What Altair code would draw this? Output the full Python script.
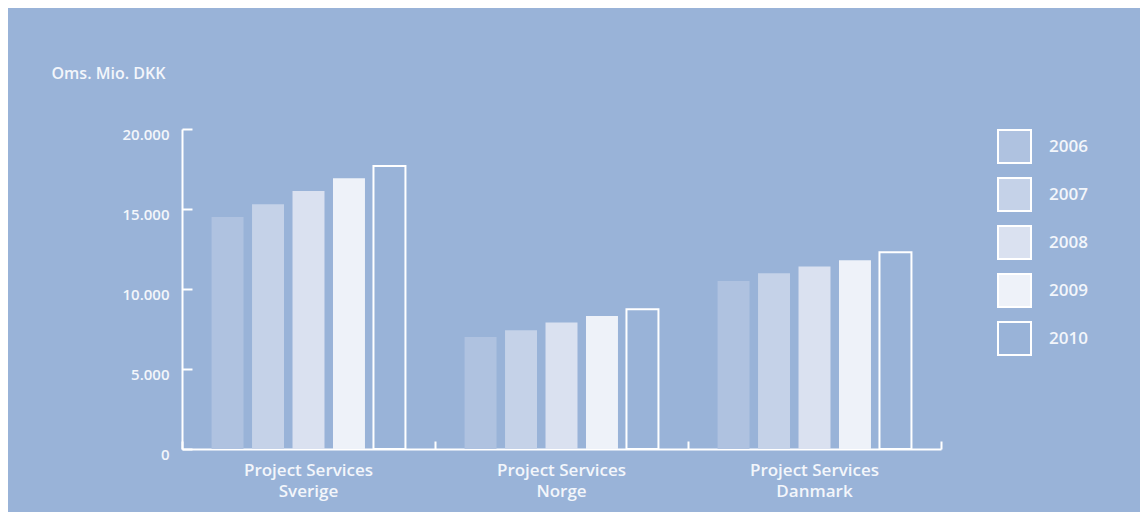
import altair as alt
import pandas as pd

regions = ["Project Services\nSverige", "Project Services\nNorge", "Project Services\nDanmark"]
years = ["2006", "2007", "2008", "2009", "2010"]
sverige = [14500, 15300, 16130, 16920, 17680]
norge = [7000, 7420, 7900, 8310, 8730]
danmark = [10500, 10980, 11400, 11790, 12290]
y_ticks = [0, 5000, 10000, 15000, 20000]

BG = "#99b3d8"
fills = ["#afc2e0", "#c5d2e8", "#dae1f0", "#eef2f9", BG]
TXT = "#f3f6fb"
FONT = "Open Sans"
WEIGHT = 600

rows = []
for reg, vals in zip(regions, [sverige, norge, danmark]):
    for yr, v in zip(years, vals):
        rows.append({"region": reg, "year": yr, "value": v})
df = pd.DataFrame(rows)

W, H = 759, 320
yscale = alt.Scale(domain=[0, 20000])
xscale = alt.Scale(paddingInner=0, paddingOuter=0)

bars = alt.Chart(df).mark_bar(strokeWidth=2).encode(
    x=alt.X("region:N", sort=regions, scale=xscale,
            axis=alt.Axis(orient="bottom", domain=False, ticks=False, title=None,
                          labelAngle=0, labelExpr="split(datum.label, '\\n')",
                          labelFontSize=17, labelColor=TXT, labelFont=FONT,
                          labelFontWeight=WEIGHT,
                          labelLineHeight=21, labelPadding=13)),
    xOffset=alt.XOffset("year:N", sort=years,
                        scale=alt.Scale(paddingInner=0.21, paddingOuter=0.73)),
    y=alt.Y("value:Q", scale=yscale,
            axis=alt.Axis(orient="left", domain=False, ticks=False, grid=False,
                          values=y_ticks,
                          labelExpr="replace(format(datum.value, ','), ',', '.')",
                          labelFontSize=15, labelColor=TXT, labelFont=FONT,
                          labelFontWeight=WEIGHT,
                          labelPadding=13, labelOffset=5,
                          title="Oms. Mio. DKK", titleAngle=0, titleAlign="left",
                          titleBaseline="middle", titleX=-131, titleY=-56,
                          titleFontSize=16, titleFontWeight=WEIGHT,
                          titleColor=TXT, titleFont=FONT)),
    fill=alt.Fill("year:N", sort=years, scale=alt.Scale(domain=years, range=fills),
                  legend=alt.Legend(title=None, orient="none", legendX=815, legendY=0,
                                    symbolType="square", symbolSize=1089,
                                    symbolStrokeColor="white", symbolStrokeWidth=2,
                                    symbolOpacity=1,
                                    labelFontSize=17, labelColor=TXT, labelFont=FONT,
                                    labelFontWeight=WEIGHT,
                                    labelOffset=17, rowPadding=7)),
    stroke=alt.condition("datum.year == '2010'", alt.value("white"), alt.value("transparent")),
)

axes = alt.Chart(df).mark_point(opacity=0).encode(
    x=alt.X("region:N", sort=regions, scale=xscale,
            axis=alt.Axis(orient="top", offset=-H, labels=False, title=None,
                          domain=True, domainColor="white", domainWidth=2,
                          ticks=True, tickBand="extent", tickSize=8,
                          tickColor="white", tickWidth=2)),
    y=alt.Y("value:Q", scale=yscale,
            axis=alt.Axis(orient="right", offset=-W, labels=False, title=None,
                          values=y_ticks, grid=False,
                          domain=True, domainColor="white", domainWidth=2,
                          ticks=True, tickSize=10, tickColor="white", tickWidth=2)),
)

chart = alt.layer(bars, axes).resolve_axis(x="independent", y="independent").properties(
    width=W, height=H,
    background=BG,
    autosize=alt.AutoSizeParams(type="none"),
    padding={"left": 174, "top": 121, "right": 199, "bottom": 63},
).configure_view(stroke=None)

chart.save("out.html", embed_options={"renderer": "svg", "actions": False})
